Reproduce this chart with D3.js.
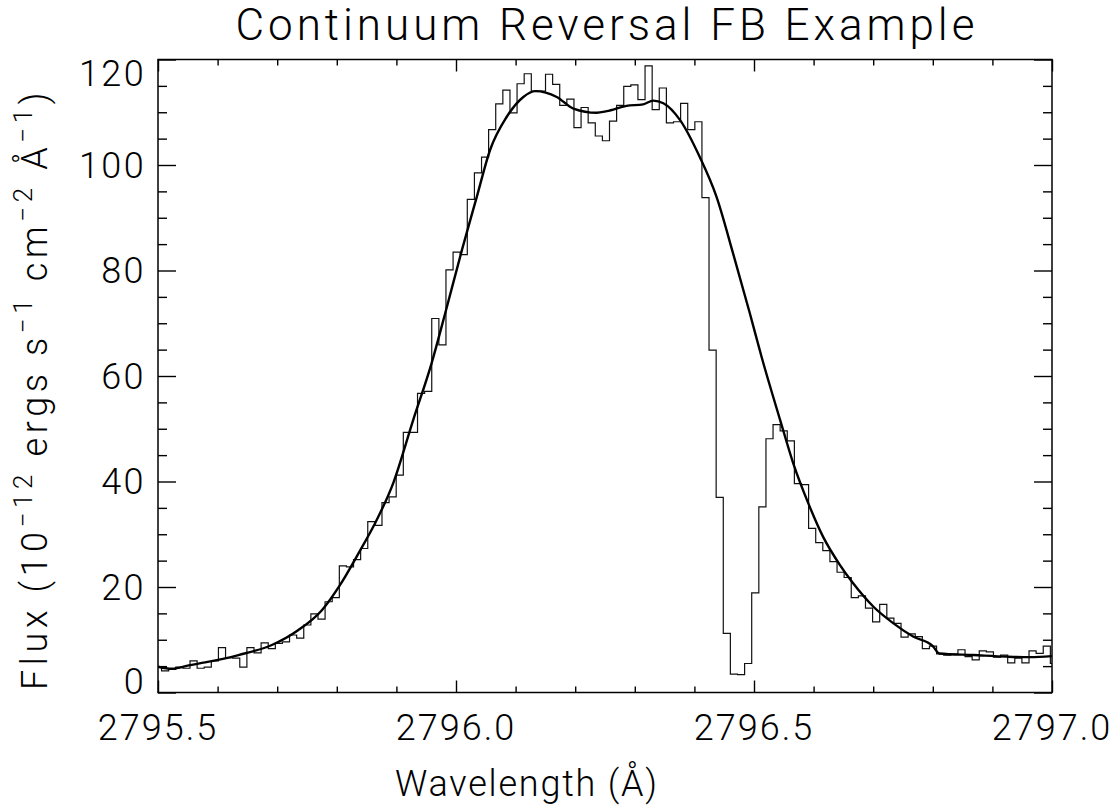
<!DOCTYPE html>
<html lang="en">
<head>
  <meta charset="UTF-8">
  <title>Continuum Reversal FB Example</title>
  <script src="https://d3js.org/d3.v7.min.js"></script>
  <style>
    body {
      margin: 0;
      background: #fff;
    }

    text {
      font-family: Roboto, "DejaVu Sans", sans-serif;
      font-weight: 300;
      fill: #000;
    }

    .hist {
      fill: none;
      stroke: #111;
      stroke-width: 1.2px;
    }

    .model {
      fill: none;
      stroke: #000;
      stroke-width: 2.4px;
    }

    .tick line {
      stroke: #000;
      stroke-width: 1.4px;
    }
  </style>
</head>
<body>
  <div id="chart"></div>
  <script>
    const width = 1120, height = 810;
    const margin = { top: 59.5, right: 68, bottom: 117.5, left: 158 };

    // observed spectrum, bin centres (Angstrom)
    const wave = [
      2795.5000, 2795.5119, 2795.5239, 2795.5358, 2795.5477, 2795.5597, 2795.5716, 2795.5835,
      2795.5954, 2795.6074, 2795.6193, 2795.6312, 2795.6432, 2795.6551, 2795.6670, 2795.6790,
      2795.6909, 2795.7028, 2795.7147, 2795.7267, 2795.7386, 2795.7505, 2795.7625, 2795.7744,
      2795.7863, 2795.7983, 2795.8102, 2795.8221, 2795.8340, 2795.8460, 2795.8579, 2795.8698,
      2795.8818, 2795.8937, 2795.9056, 2795.9176, 2795.9295, 2795.9414, 2795.9533, 2795.9653,
      2795.9772, 2795.9891, 2796.0011, 2796.0130, 2796.0249, 2796.0369, 2796.0488, 2796.0607,
      2796.0726, 2796.0846, 2796.0965, 2796.1084, 2796.1204, 2796.1323, 2796.1442, 2796.1562,
      2796.1681, 2796.1800, 2796.1919, 2796.2039, 2796.2158, 2796.2277, 2796.2397, 2796.2516,
      2796.2635, 2796.2755, 2796.2874, 2796.2993, 2796.3112, 2796.3232, 2796.3351, 2796.3470,
      2796.3590, 2796.3709, 2796.3828, 2796.3948, 2796.4067, 2796.4186, 2796.4305, 2796.4425,
      2796.4544, 2796.4663, 2796.4783, 2796.4902, 2796.5021, 2796.5141, 2796.5260, 2796.5379,
      2796.5498, 2796.5618, 2796.5737, 2796.5856, 2796.5976, 2796.6095, 2796.6214, 2796.6334,
      2796.6453, 2796.6572, 2796.6691, 2796.6811, 2796.6930, 2796.7049, 2796.7169, 2796.7288,
      2796.7407, 2796.7527, 2796.7646, 2796.7765, 2796.7884, 2796.8004, 2796.8123, 2796.8242,
      2796.8362, 2796.8481, 2796.8600, 2796.8720, 2796.8839, 2796.8958, 2796.9077, 2796.9197,
      2796.9316, 2796.9435, 2796.9555, 2796.9674, 2796.9793, 2796.9913, 2797.0032
    ];

    const flux = [
      4.9, 4.1, 4.4, 4.8, 4.6, 6.0, 4.6, 4.8,
      6.0, 8.5, 6.6, 6.5, 4.8, 8.5, 7.5, 9.4,
      8.3, 9.3, 9.6, 10.9, 10.3, 12.8, 14.9, 13.9,
      17.2, 18.0, 24.0, 23.8, 25.2, 27.3, 32.4, 31.7,
      36.0, 37.1, 41.2, 49.3, 49.3, 56.7, 57.1, 70.9,
      65.9, 80.1, 83.5, 83.0, 93.5, 98.5, 101.5, 106.7,
      111.6, 114.2, 109.9, 115.4, 117.3, 114.0, 114.0, 117.2,
      115.3, 111.3, 112.5, 107.1, 110.9, 108.0, 105.5, 104.6,
      108.3, 111.3, 114.9, 115.2, 112.4, 118.8, 110.5, 114.6,
      108.0, 108.2, 111.7, 106.7, 108.2, 93.8, 64.9, 37.0,
      11.2, 3.5, 3.4, 5.5, 18.9, 35.2, 48.1, 50.8,
      49.6, 47.7, 39.6, 39.4, 31.1, 28.4, 26.9, 24.8,
      22.8, 21.8, 18.0, 18.3, 16.0, 13.4, 16.7, 14.1,
      13.1, 10.5, 11.1, 10.6, 8.3, 8.8, 7.3, 7.1,
      7.3, 8.1, 6.8, 6.2, 7.9, 7.7, 6.7, 7.1,
      5.6, 6.5, 5.6, 7.9, 7.4, 8.8, 5.5
    ];

    // fitted profile
    const modelWave = [
      2795.500, 2795.523, 2795.554, 2795.579, 2795.635, 2795.691, 2795.735, 2795.775,
      2795.805, 2795.839, 2795.862, 2795.895, 2795.928, 2795.959, 2795.984, 2796.010,
      2796.035, 2796.057, 2796.085, 2796.113, 2796.133, 2796.169, 2796.197, 2796.236,
      2796.253, 2796.286, 2796.314, 2796.331, 2796.348, 2796.376, 2796.409, 2796.437,
      2796.465, 2796.493, 2796.513, 2796.544, 2796.566, 2796.591, 2796.616, 2796.644,
      2796.667, 2796.700, 2796.734, 2796.767, 2796.800, 2796.811, 2796.868, 2796.924,
      2796.963, 2797.000
    ];
    const modelFlux = [
      4.9, 4.5, 5.2, 5.7, 7.1, 9.0, 11.8, 15.6,
      20.3, 26.9, 31.6, 39.8, 51.6, 62.4, 72.8, 83.9,
      94.0, 102.8, 109.1, 112.9, 114.0, 112.9, 110.7, 109.9,
      110.2, 111.2, 111.5, 112.2, 111.7, 108.5, 101.5, 94.0,
      83.2, 71.9, 63.5, 51.6, 43.4, 35.9, 29.5, 24.2,
      20.6, 16.3, 13.1, 10.6, 8.8, 7.4, 7.1, 6.8,
      6.7, 6.9
    ];

    const xMajor = [2795.5, 2796.0, 2796.5, 2797.0];
    const xMinor = [2795.6, 2795.7, 2795.8, 2795.9, 2796.1, 2796.2, 2796.3, 2796.4,
                    2796.6, 2796.7, 2796.8, 2796.9];
    const xLabels = ["2795.5", "2796.0", "2796.5", "2797.0"];
    const yMajor = [0, 20, 40, 60, 80, 100, 120];
    const yMinor = [5, 10, 15, 25, 30, 35, 45, 50, 55, 65, 70, 75, 85, 90, 95, 105, 110, 115];

    const svg = d3.select("#chart")
      .append("svg")
      .attr("width", width)
      .attr("height", height);

    const x = d3.scaleLinear()
      .domain([2795.5, 2797.0])
      .range([margin.left, width - margin.right]);

    const y = d3.scaleLinear()
      .domain([0, 120])
      .range([height - margin.bottom, margin.top]);

    svg.append("clipPath")
      .attr("id", "plotClip")
      .append("rect")
      .attr("x", margin.left)
      .attr("y", margin.top)
      .attr("width", width - margin.left - margin.right)
      .attr("height", height - margin.top - margin.bottom);

    const plot = svg.append("g").attr("clip-path", "url(#plotClip)");

    // histogram-style spectrum
    const histLine = d3.line()
      .x((d, i) => x(wave[i]))
      .y(d => y(d))
      .curve(d3.curveStep);

    plot.append("path")
      .attr("class", "hist")
      .attr("d", histLine(flux));

    const modelLine = d3.line()
      .x((d, i) => x(modelWave[i]))
      .y(d => y(d))
      .curve(d3.curveMonotoneX);

    plot.append("path")
      .attr("class", "model")
      .attr("d", modelLine(modelFlux));

    // ticks on all four sides, pointing inward
    const bottomY = height - margin.bottom, topY = margin.top;
    const leftX = margin.left, rightX = width - margin.right;

    function addTicks(axisFn, scale, values, size, transform) {
      svg.append("g")
        .attr("transform", transform)
        .call(axisFn(scale).tickValues(values).tickSize(size).tickFormat(""))
        .call(g => g.select(".domain").remove());
    }

    addTicks(d3.axisBottom, x, xMajor, -12, `translate(0,${bottomY})`);
    addTicks(d3.axisBottom, x, xMinor, -6, `translate(0,${bottomY})`);
    addTicks(d3.axisTop, x, xMajor, -12, `translate(0,${topY})`);
    addTicks(d3.axisTop, x, xMinor, -6, `translate(0,${topY})`);
    addTicks(d3.axisLeft, y, yMajor, -18, `translate(${leftX},0)`);
    addTicks(d3.axisLeft, y, yMinor, -9, `translate(${leftX},0)`);
    addTicks(d3.axisRight, y, yMajor, -18, `translate(${rightX},0)`);
    addTicks(d3.axisRight, y, yMinor, -9, `translate(${rightX},0)`);

    // frame
    svg.append("rect")
      .attr("x", leftX)
      .attr("y", topY)
      .attr("width", rightX - leftX)
      .attr("height", bottomY - topY)
      .attr("fill", "none")
      .attr("stroke", "#000")
      .attr("stroke-width", 1.5);

    // tick labels
    svg.append("g")
      .selectAll("text")
      .data(xMajor)
      .enter().append("text")
      .attr("x", d => x(d))
      .attr("y", 740)
      .attr("text-anchor", "middle")
      .attr("font-size", 36)
      .attr("letter-spacing", "2px")
      .text((d, i) => xLabels[i]);

    svg.append("g")
      .selectAll("text")
      .data(yMajor)
      .enter().append("text")
      .attr("x", 146)
      .attr("y", d => Math.min(Math.max(y(d), 73), 681))
      .attr("dy", "0.36em")
      .attr("text-anchor", "end")
      .attr("font-size", 36)
      .attr("letter-spacing", "2.4px")
      .text(d => d);

    // titles
    svg.append("text")
      .attr("x", 605)
      .attr("y", 40)
      .attr("text-anchor", "middle")
      .attr("font-size", 44)
      .attr("textLength", 739)
      .attr("lengthAdjust", "spacing")
      .text("Continuum Reversal FB Example");

    svg.append("text")
      .attr("x", 395)
      .attr("y", 796)
      .attr("font-size", 36)
      .attr("textLength", 262)
      .attr("lengthAdjust", "spacing")
      .text("Wavelength (Å)");

    const yTitle = svg.append("text")
      .attr("transform", "translate(47,690) rotate(-90)")
      .attr("font-size", 36)
      .attr("letter-spacing", "4.6px");

    const yParts = [
      ["Flux (10", false], ["\u221212", true], [" ergs s", false], ["\u22121", true],
      [" cm", false], ["\u22122", true], [" Å", false], ["\u22121", true], [")", false]
    ];
    let raised = false;
    yParts.forEach(([t, sup]) => {
      const span = yTitle.append("tspan").text(t);
      if (sup && !raised) { span.attr("dy", -15).attr("font-size", 26); raised = true; }
      else if (sup) { span.attr("font-size", 26); }
      else if (raised) { span.attr("dy", 15); raised = false; }
    });
  </script>
</body>
</html>
